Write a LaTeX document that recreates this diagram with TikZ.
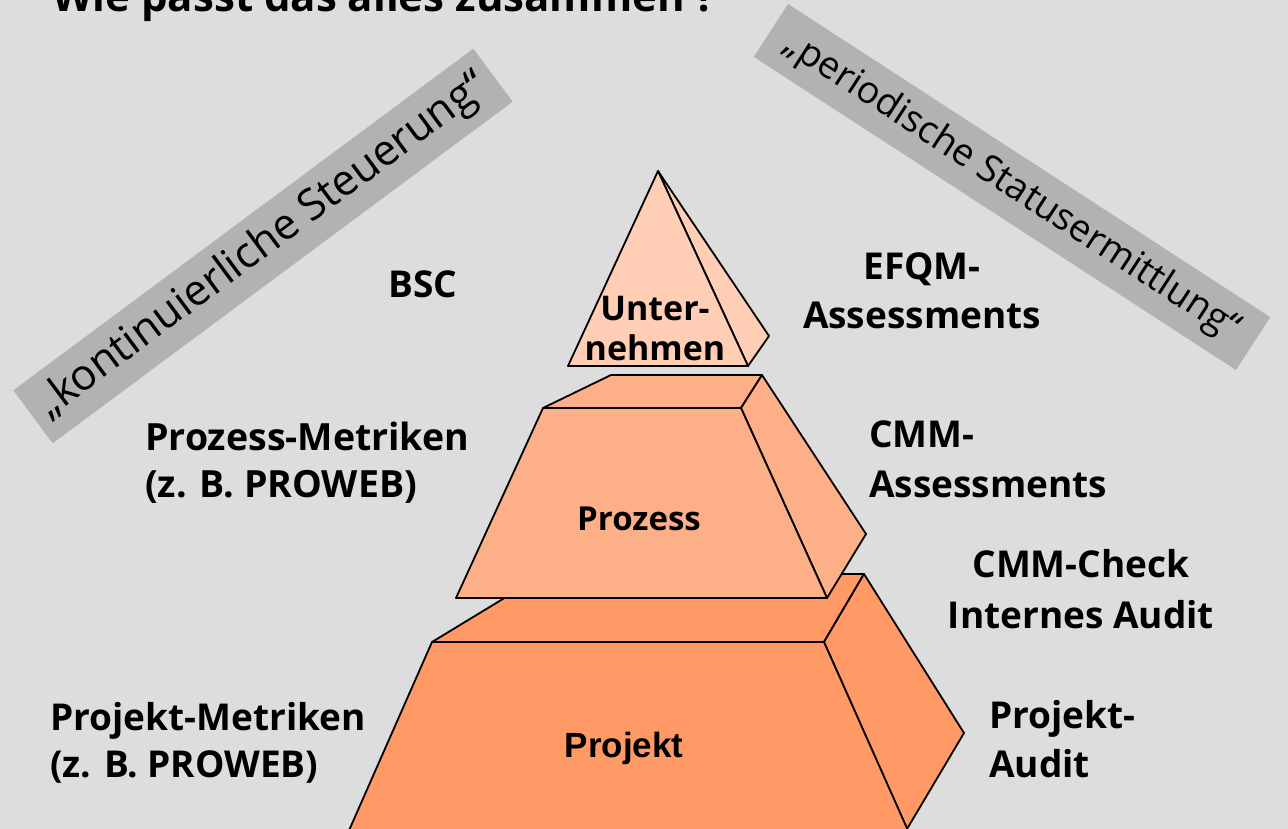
\documentclass[tikz,border=0pt]{standalone}
\usepackage{fontspec}
\setmainfont{Open Sans}
\newfontfamily\arialfont{Liberation Sans}
\definecolor{bg}{RGB}{221,221,221}
\definecolor{bandgrey}{RGB}{178,178,178}
\definecolor{topcol}{RGB}{255,206,180}
\definecolor{midcol}{RGB}{253,176,136}
\definecolor{lowcol}{RGB}{255,153,102}
\tikzset{
	face/.style={draw=black,line width=1.8pt,line join=round},
	note/.style={inner sep=0pt,font=\fontsize{37}{49}\selectfont\bfseries},
	band/.style={fill=bandgrey,inner sep=0pt},
}
\begin{document}
\begin{tikzpicture}[x=1pt,y=-1pt]
	\clip (0,0) rectangle (1288,829);
	\fill[bg] (0,0) rectangle (1288,829);
	% title, cut at the top
	\node[inner sep=0pt,anchor=base west,font=\fontsize{42}{50}\selectfont\bfseries] (title) at (52,12) {Wie passt das alles zusammen ?};
	% grey bands
	\node[band,rotate=36.6,minimum width=573pt,minimum height=66pt,font=\fontsize{43}{45}\selectfont] (steuerung) at (263,246) {„kontinuierliche Steuerung“};
	\node[band,rotate=-33,minimum width=575pt,minimum height=63pt,font=\fontsize{37.5}{40}\selectfont] (status) at (1012,187) {„periodische Statusermittlung“};
	% pyramid: Projekt
	\filldraw[face,fill=lowcol] (432,642) -- (544,574) -- (864,574) -- (824,642) -- cycle;
	\filldraw[face,fill=lowcol] (824,642) -- (864,574) -- (964,733) -- (907,829) -- cycle;
	\filldraw[face,fill=lowcol] (432,642) -- (824,642) -- (910,835) -- (347,835) -- cycle;
	% Prozess
	\filldraw[face,fill=midcol] (543,408) -- (611,375) -- (762,375) -- (741,408) -- cycle;
	\filldraw[face,fill=midcol] (741,408) -- (762,375) -- (866,534) -- (827,598) -- cycle;
	\filldraw[face,fill=midcol] (543,408) -- (741,408) -- (827,598) -- (456,598) -- cycle;
	% Unternehmen
	\filldraw[face,fill=topcol] (658,171) -- (769,336) -- (748,366) -- cycle;
	\filldraw[face,fill=topcol] (658,171) -- (748,366) -- (568,366) -- cycle;
	\node[note,align=center,anchor=base,font=\fontsize{34}{40}\selectfont\bfseries] (unternehmen) at (655,360) {Unter-\\nehmen};
	\node[note,anchor=base,font=\fontsize{33}{40}\selectfont\bfseries] (prozess) at (639,530) {Prozess};
	\node[note,anchor=base,font=\fontsize{35}{40}\selectfont\arialfont\bfseries] (projekt) at (624,757) {Projekt};
	% labels (base = last line)
	\node[note,anchor=base west] (bsc) at (388,297) {BSC};
	\node[note,align=center,anchor=base] (efqm) at (922,328) {EFQM-\\Assessments};
	\node[note,align=left,anchor=base west,font=\fontsize{37.5}{47}\selectfont\bfseries] (pzmetrik) at (145,497) {Prozess-Metriken\\(z. B. PROWEB)};
	\node[note,align=left,anchor=base west,font=\fontsize{37}{50}\selectfont\bfseries] (cmm) at (869,497) {CMM-\\Assessments};
	\node[note,align=center,anchor=base,font=\fontsize{37}{51}\selectfont\bfseries] (check) at (1081,628) {CMM-Check\\Internes Audit};
	\node[note,align=left,anchor=base west,font=\fontsize{37}{47}\selectfont\bfseries] (pjmetrik) at (50,777) {Projekt-Metriken\\(z. B. PROWEB)};
	\node[note,align=left,anchor=base west] (audit) at (989,777) {Projekt-\\Audit};
\end{tikzpicture}
\end{document}
